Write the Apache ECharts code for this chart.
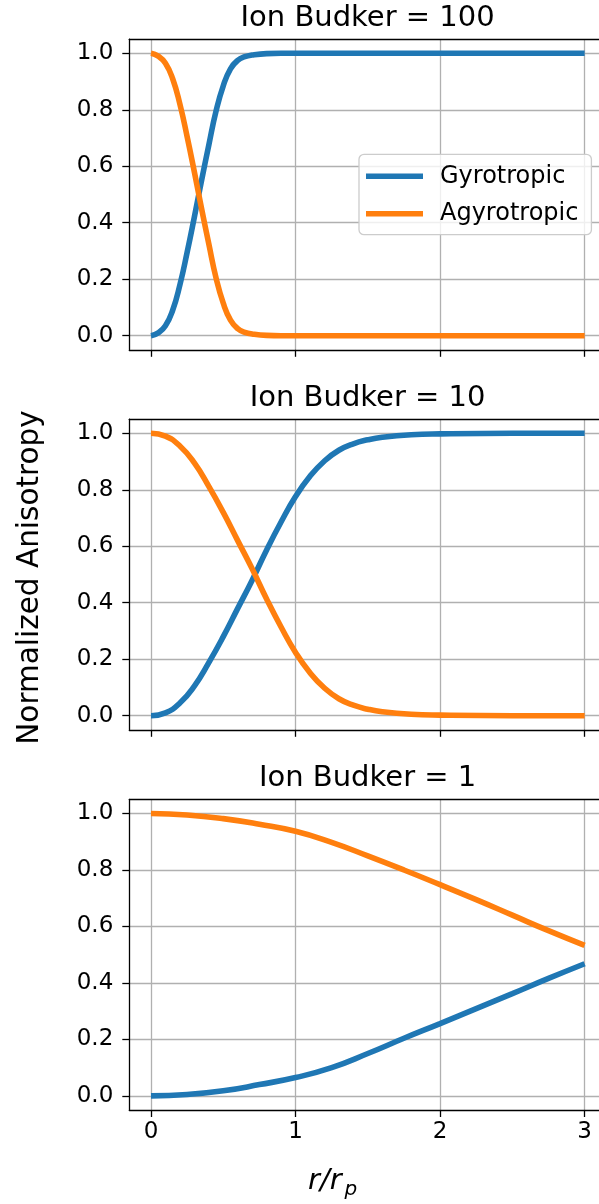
<!DOCTYPE html>
<html>
<head>
<meta charset="utf-8">
<script src="https://cdn.jsdelivr.net/npm/echarts@6/dist/echarts.min.js"></script>
<style>
html,body{margin:0;padding:0;background:#fff;}
#chart{width:599px;height:1204px;}
</style>
</head>
<body>
<div id="chart"></div>
<script>
// ---- data ----
var titles = ['Ion Budker = 100', 'Ion Budker = 10', 'Ion Budker = 1'];
var seriesNames = ['Gyrotropic', 'Agyrotropic'];
var xTicks = [0, 1, 2, 3];
var yTicks = [0, 0.2, 0.4, 0.6, 0.8, 1.0];

var r100 = [0, 0.05, 0.1, 0.15, 0.2, 0.25, 0.3, 0.35, 0.4, 0.45, 0.5, 0.55, 0.6, 0.65, 0.7, 0.8, 0.9, 1.0, 3.0];
var agy100 = [1.0, 0.99, 0.965, 0.91, 0.82, 0.705, 0.58, 0.45, 0.325, 0.205, 0.115, 0.055, 0.025, 0.012, 0.006, 0.001, 0, 0, 0];
var gyr100 = [0, 0.01, 0.035, 0.09, 0.18, 0.295, 0.42, 0.55, 0.675, 0.795, 0.885, 0.945, 0.975, 0.988, 0.994, 0.999, 1, 1, 1];

var r10 = [0, 0.1, 0.2, 0.3, 0.4, 0.5, 0.6, 0.7, 0.8, 0.9, 1.0, 1.1, 1.2, 1.3, 1.4, 1.5, 1.6, 1.8, 2.0, 2.5, 3.0];
var agy10 = [1.0, 0.99, 0.955, 0.895, 0.812, 0.72, 0.62, 0.52, 0.413, 0.314, 0.224, 0.152, 0.098, 0.06, 0.037, 0.023, 0.014, 0.005, 0.002, 0, 0];
var gyr10 = [0, 0.01, 0.045, 0.105, 0.188, 0.28, 0.38, 0.48, 0.587, 0.686, 0.776, 0.848, 0.902, 0.94, 0.963, 0.977, 0.986, 0.995, 0.998, 1, 1];

var r1 = [0, 0.25, 0.5, 0.75, 1.0, 1.25, 1.5, 1.75, 2.0, 2.25, 2.5, 2.75, 3.0];
var agy1 = [1.0, 0.995, 0.982, 0.962, 0.937, 0.898, 0.85, 0.8, 0.748, 0.695, 0.64, 0.585, 0.533];
var gyr1 = [0, 0.005, 0.018, 0.04, 0.065, 0.1, 0.15, 0.204, 0.256, 0.309, 0.362, 0.416, 0.468];

var panels = [
  {r: r100, gyr: gyr100, agy: agy100},
  {r: r10, gyr: gyr10, agy: agy10},
  {r: r1, gyr: gyr1, agy: agy1}
];

// ---- layout / style ----
var FONT = 'DejaVu Sans';
var BLUE = '#1f77b4', ORANGE = '#ff7f0e';
var gridLeft = 129.3, gridRight = -7.3, gridHeight = 310.6;
var gridTops = [39.2, 419.2, 799.4];
var titleY = [18.3, 398.0, 778.0];
var titleX = 129.3 + 476.6 / 2;
var spine = {show: true, onZero: false, lineStyle: {color: '#000', width: 1.3}};

function zip(xs, ys) { return xs.map(function (x, i) { return [x, ys[i]]; }); }

var grids = [], xAxes = [], yAxes = [], series = [], graphics = [];
gridTops.forEach(function (top, i) {
  grids.push({left: gridLeft, right: gridRight, top: top, height: gridHeight,
    outerBoundsMode: 'none', containLabel: false, show: false});
  xAxes.push({type: 'value', gridIndex: i, position: 'bottom', min: -0.15, max: 3.15,
    axisLine: spine,
    axisTick: {show: true, length: 7, lineStyle: {color: '#000', width: 1.3}, customValues: xTicks},
    axisLabel: {show: i === 2, customValues: xTicks, fontSize: 23, color: '#000', fontFamily: FONT, margin: 11},
    splitLine: {show: true, lineStyle: {color: '#b0b0b0', width: 1.3}}
  });
  yAxes.push({type: 'value', gridIndex: i, min: -0.05, max: 1.05,
    axisLine: spine,
    axisTick: {show: true, length: 7, lineStyle: {color: '#000', width: 1.3}, customValues: yTicks},
    axisLabel: {show: true, customValues: yTicks, fontSize: 23, color: '#000', fontFamily: FONT, margin: 16,
      formatter: function (v) { return v.toFixed(1); }},
    splitLine: {show: true, lineStyle: {color: '#b0b0b0', width: 1.3}}
  });
  var p = panels[i];
  series.push({name: seriesNames[0], type: 'line', xAxisIndex: i, yAxisIndex: i, data: zip(p.r, p.gyr),
    smooth: 0.5, symbol: 'none', lineStyle: {color: BLUE, width: 5.6}, itemStyle: {color: BLUE}, z: 3});
  series.push({name: seriesNames[1], type: 'line', xAxisIndex: i, yAxisIndex: i, data: zip(p.r, p.agy),
    smooth: 0.5, symbol: 'none', lineStyle: {color: ORANGE, width: 5.6}, itemStyle: {color: ORANGE}, z: 4});
  graphics.push({type: 'text', x: titleX, y: titleY[i],
    style: {text: titles[i], fontSize: 29, fontFamily: FONT, fill: '#000',
      align: 'center', verticalAlign: 'middle', textAlign: 'center', textVerticalAlign: 'middle'}});
});
// top spines (one extra x axis per panel, line only)
gridTops.forEach(function (top, i) {
  xAxes.push({type: 'value', gridIndex: i, position: 'top', min: -0.15, max: 3.15,
    axisLine: spine, axisTick: {show: false}, axisLabel: {show: false}, splitLine: {show: false}});
});

graphics.push({type: 'text', x: 30, y: 577.5, rotation: Math.PI / 2,
  style: {text: 'Normalized Anisotropy', fontSize: 29.5, fontFamily: FONT, fill: '#000',
    align: 'center', verticalAlign: 'middle', textAlign: 'center', textVerticalAlign: 'middle'}});
graphics.push({type: 'text', x: 308, y: 1181,
  style: {text: 'r/r', fontSize: 29, fontStyle: 'italic', fontFamily: FONT, fill: '#000',
    align: 'left', verticalAlign: 'middle', textAlign: 'left', textVerticalAlign: 'middle'}});
graphics.push({type: 'text', x: 344.5, y: 1189.5,
  style: {text: 'p', fontSize: 20, fontStyle: 'italic', fontFamily: FONT, fill: '#000',
    align: 'left', verticalAlign: 'middle', textAlign: 'left', textVerticalAlign: 'middle'}});

var option = {
  animation: false,
  backgroundColor: '#fff',
  textStyle: {fontFamily: FONT},
  grid: grids,
  xAxis: xAxes,
  yAxis: yAxes,
  series: series,
  legend: {
    data: seriesNames,
    orient: 'vertical',
    left: 359, top: 154.3,
    icon: 'rect', itemWidth: 57, itemHeight: 5.6, itemGap: 13.4,
    padding: [10, 13, 9, 7],
    borderColor: '#cccccc', borderWidth: 1.3, borderRadius: 5,
    backgroundColor: 'rgba(255,255,255,0.8)',
    textStyle: {fontSize: 24, lineHeight: 24, color: '#000', fontFamily: FONT, padding: [0, 0, 0, 12]},
    selectedMode: false
  },
  graphic: graphics
};

var chart = echarts.init(document.getElementById('chart'), null, {renderer: 'canvas'});
chart.setOption(option);
</script>
</body>
</html>
